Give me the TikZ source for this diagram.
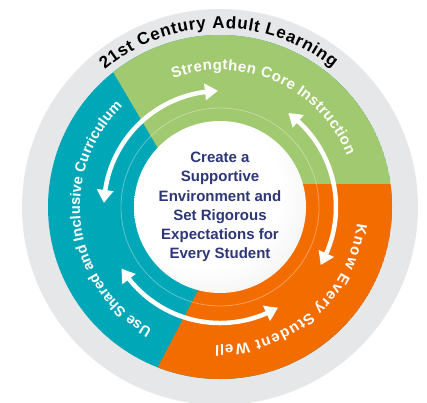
\documentclass[tikz,border=0pt]{standalone}
\usepackage{fontspec}
\setmainfont{Liberation Sans}
\usetikzlibrary{decorations.text,arrows.meta,bending}
\definecolor{ringgray}{HTML}{E6E7E8}
\definecolor{cteal}{HTML}{00A7B7}
\definecolor{cgreen}{HTML}{A1C96F}
\definecolor{corange}{HTML}{F26C00}
\definecolor{cnavy}{HTML}{2D3778}
\definecolor{discgray}{HTML}{DCDDDF}
\pgfdeclareradialshading{discshade}{\pgfpoint{-8bp}{8bp}}{color(0bp)=(white); color(22bp)=(white); color(50bp)=(discgray)}
\newcommand\titlefont{\bfseries\fontsize{17}{17}\selectfont}
\newcommand\ringfont{\bfseries\fontsize{15}{15}\selectfont}
\newcommand\ringfontb{\bfseries\fontsize{14.5}{14.5}\selectfont}
\tikzset{
  cyclearrow/.style={white, line width=4.5pt,
    {Triangle[width=16pt,length=13pt,bend]}-{Triangle[width=16pt,length=13pt,bend]}},
  arctext/.style n args={3}{decorate, decoration={text effects along path, text={#1},
    text effects/.cd, text along path, fit text to path,
    every character/.style={font=#2, text=#3}}}
}
\begin{document}
\begin{tikzpicture}[x=1pt,y=1pt]
\useasboundingbox (0,0) rectangle (427,402);
\coordinate (C) at (220,195);
% outer gray ring
\fill[ringgray] (C) circle[radius=198];
% coloured sectors
\begin{scope}
  \clip (C) circle[radius=172];
  \fill[cteal] (C) circle[radius=172];
  \fill[cgreen] (59,422) -- (450,422) -- (450,218) -- (179,218) -- cycle;
  \fill[corange] (254,218) -- (450,218) -- (450,-18) -- (130,-18) -- cycle;
\end{scope}
% faint ring
\draw[white, opacity=0.35, line width=0.8pt] (C) circle[radius=99];
% central disc
\shade[shading=discshade] (C) circle[radius=86];
\node[align=center, text=cnavy, font=\bfseries\fontsize{15}{19.2}\selectfont] (core) at (C)
  {Create a\\Supportive\\Environment and\\Set Rigorous\\Expectations for\\Every Student};
% arrows
\draw[cyclearrow] (C) ++(91:116) arc[start angle=91, end angle=178, radius=116];
\draw[cyclearrow] (C) ++(54:116) arc[start angle=54, end angle=-30, radius=116];
\draw[cyclearrow] (C) ++(212:116) arc[start angle=212, end angle=300, radius=116];
% curved labels
\path[arctext={21st Century Adult Learning}{\titlefont}{black}] (C) ++(130:179) arc[start angle=130, end angle=51, radius=179];
\path[arctext={Strengthen Core Instruction}{\ringfont}{white}] (C) ++(110:137) arc[start angle=110, end angle=22, radius=137];
\path[arctext={Use Shared and Inclusive Curriculum}{\ringfontb}{white}] (C) ++(241:140) arc[start angle=241, end angle=134, radius=140];
\path[arctext={Know Every Student Well}{\ringfont}{white}] (C) ++(-7:138) arc[start angle=-7, end angle=-92, radius=138];
\end{tikzpicture}
\end{document}
